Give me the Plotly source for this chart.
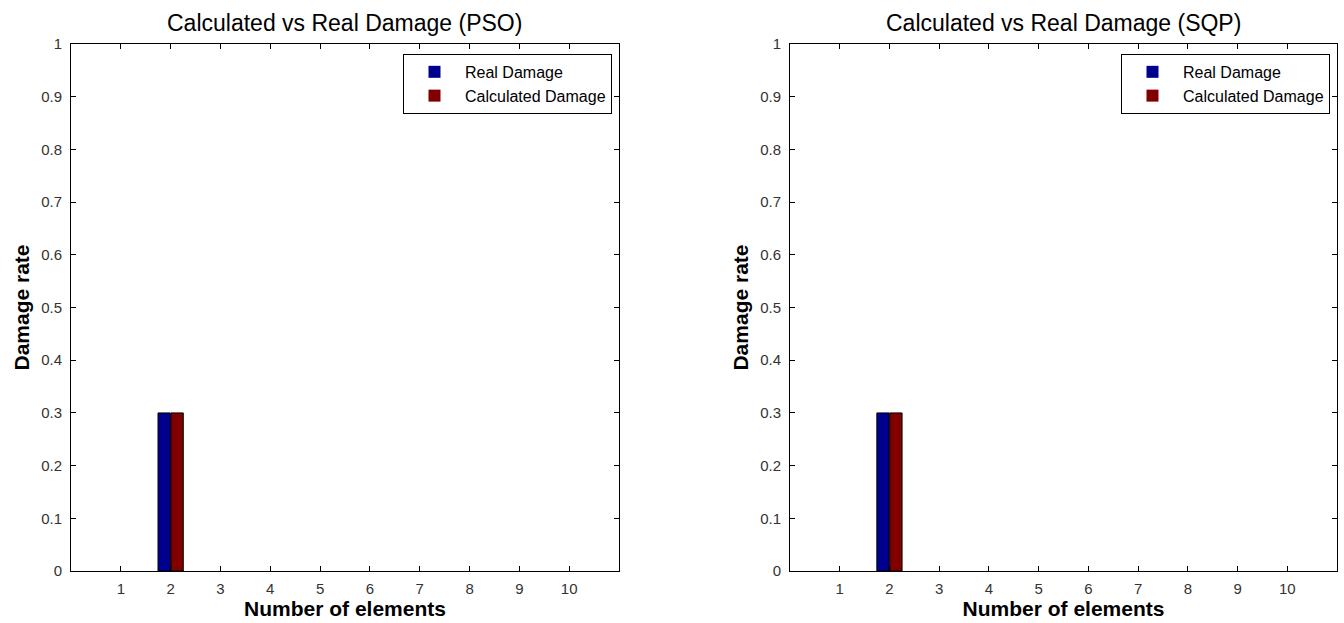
import plotly.graph_objects as go
from plotly.subplots import make_subplots

elements = [1, 2, 3, 4, 5, 6, 7, 8, 9, 10]
real_pso = [0, 0.3, 0, 0, 0, 0, 0, 0, 0, 0]
calc_pso = [0, 0.3, 0, 0, 0, 0, 0, 0, 0, 0]
real_sqp = [0, 0.3, 0, 0, 0, 0, 0, 0, 0, 0]
calc_sqp = [0, 0.3, 0, 0, 0, 0, 0, 0, 0, 0]
titles = ["Calculated vs Real Damage (PSO)", "Calculated vs Real Damage (SQP)"]
yticks = [0, 0.1, 0.2, 0.3, 0.4, 0.5, 0.6, 0.7, 0.8, 0.9, 1]
ytick_text = ["0", "0.1", "0.2", "0.3", "0.4", "0.5", "0.6", "0.7", "0.8", "0.9", "1"]

BLUE = "rgb(0,0,143)"
RED = "rgb(128,0,0)"
FONT = "Liberation Sans, Arial, sans-serif"

fig = make_subplots(rows=1, cols=2)

def outline(vals):
    return [1 if v > 0 else 0 for v in vals]

for i, (real, calc) in enumerate([(real_pso, calc_pso), (real_sqp, calc_sqp)]):
    lg = "legend" if i == 0 else "legend2"
    fig.add_trace(go.Bar(x=elements, y=real, name="Real Damage",
                         marker=dict(color=BLUE, line=dict(color="black", width=outline(real))),
                         legend=lg), row=1, col=i + 1)
    fig.add_trace(go.Bar(x=elements, y=calc, name="Calculated Damage",
                         marker=dict(color=RED, line=dict(color="black", width=outline(calc))),
                         legend=lg), row=1, col=i + 1)

# vertical placement (rendered page offset 8px, plot height ~607px)
OFF, H = 8, 607
def py(px):
    return 1 - (px - OFF) / H

ydom = [py(571), py(43)]
xdoms = [[71 / 1344, 619 / 1344], [790 / 1344, 1337 / 1344]]

axis_common = dict(showline=True, linecolor="black", linewidth=1, mirror="ticks", ticks="inside", ticklen=5,
                   tickcolor="black", showgrid=False, zeroline=False,
                   tickfont=dict(family=FONT, size=15, color="#333"))

for i in range(2):
    xa = "xaxis" if i == 0 else "xaxis2"
    ya = "yaxis" if i == 0 else "yaxis2"
    fig.layout[xa].update(domain=xdoms[i], range=[0, 11], tickmode="array", tickvals=elements,
                          ticktext=[str(e) for e in elements], ticklabelstandoff=4,
                          title=dict(text="<b>Number of elements</b>", font=dict(family=FONT, size=21, color="black"), standoff=2),
                          **axis_common)
    fig.layout[ya].update(domain=ydom, range=[0, 1], tickmode="array", tickvals=yticks, ticktext=ytick_text,
                          ticklabelstandoff=5,
                          title=dict(text="<b>Damage rate</b>", font=dict(family=FONT, size=21, color="black"), standoff=5),
                          **axis_common)
    cx = (xdoms[i][0] + xdoms[i][1]) / 2
    fig.add_annotation(text=titles[i], x=cx, y=py(22), xref="paper", yref="paper", showarrow=False,
                       font=dict(family=FONT, size=23, color="black"), xanchor="center", yanchor="middle")

legend_common = dict(bgcolor="white", bordercolor="black", borderwidth=1,
                     font=dict(family=FONT, size=16, color="black"), xanchor="right", yanchor="top",
                     tracegroupgap=0, itemwidth=51)
fig.update_layout(
    legend=dict(x=612 / 1344, y=py(53), **legend_common),
    legend2=dict(x=1330 / 1344, y=py(53), **legend_common),
    barmode="group", bargap=0.48, bargroupgap=0.05,
    width=1344, height=623, margin=dict(l=0, r=0, t=0, b=0),
    paper_bgcolor="white", plot_bgcolor="white", showlegend=True,
)

fig.write_html("out.html")
